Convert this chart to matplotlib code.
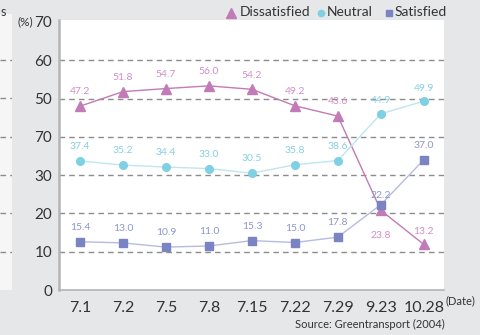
import matplotlib
matplotlib.use('Agg')
import matplotlib.pyplot as plt

plt.rcParams['font.family'] = ['Lato', 'DejaVu Sans']

dates = ['7.1', '7.2', '7.5', '7.8', '7.15', '7.22', '7.29', '9.23', '10.28']
# where the marks sit in the picture (the original chart is not drawn to scale)
dissatisfied = [48.0, 51.8, 52.6, 53.3, 52.4, 48.1, 45.4, 20.8, 11.9]
neutral = [33.7, 32.6, 32.1, 31.7, 30.5, 32.7, 33.8, 46.0, 49.3]
satisfied = [12.6, 12.3, 11.2, 11.5, 12.9, 12.4, 13.8, 22.3, 34.0]
# printed values
dissatisfied_lbl = ['47.2', '51.8', '54.7', '56.0', '54.2', '49.2', '43.6', '23.8', '13.2']
neutral_lbl = ['37.4', '35.2', '34.4', '33.0', '30.5', '35.8', '38.6', '44.9', '49.9']
satisfied_lbl = ['15.4', '13.0', '10.9', '11.0', '15.3', '15.0', '17.8', '22.2', '37.0']
ytick_vals = [0, 10, 20, 30, 40, 50, 60, 70]
ytick_lbl = ['0', '10', '20', '30', '70', '50', '60', '70']

bg = '#e6e7e9'
fig = plt.figure(figsize=(4.81, 3.35), dpi=100, facecolor=bg)

# strip of the neighbouring chart on the left edge
side = fig.add_axes([0, 45/335, 12/481, 276/335])
side.set_facecolor('#f6f6f6')
side.set_xlim(0, 1)
side.set_ylim(0, 72)
for v in [10, 20, 30, 40, 50, 60]:
    side.axhline(v, color='#8c8c8c', lw=1, ls=(0, (4, 3)))
side.set_xticks([])
side.set_yticks([])
for s in side.spines.values():
    s.set_visible(False)
fig.text(1/481, 1 - 12/335, 's', fontsize=9, color='#333333', va='center', ha='left')

ax = fig.add_axes([59/481, 45/335, 385/481, 270/335])
ax.set_facecolor('white')
x = list(range(len(dates)))
ax.set_xlim(-0.49, 8.47)
ax.set_ylim(0, 70.5)
for v in [10, 20, 30, 40, 50, 60]:
    ax.axhline(v, color='#8c8c8c', lw=1, ls=(0, (4, 3)), zorder=1)

series = [
    (dissatisfied, dissatisfied_lbl, '^', 7.5, '#c27bb7', '#c27bb7', '#d08fc6'),
    (neutral, neutral_lbl, 'o', 5.5, '#7fd0e2', '#bfe6ef', '#86d0e0'),
    (satisfied, satisfied_lbl, 's', 5.5, '#7a84c2', '#b6bbe2', '#8e96cc'),
]
# label offsets (points) that differ from the default
special = {(0, 7): (0, -21), (0, 8): (0, 6), (1, 7): (0, 6), (1, 8): (0, 6), (2, 7): (0, 3)}
for k, (vals, lbls, mk, ms, mc, lc, tc) in enumerate(series):
    ax.plot(x, vals, color=lc, lw=1, zorder=2)
    ax.plot(x, vals, ls='none', marker=mk, ms=ms, color=mc, zorder=3)
    for i, (v, t) in enumerate(zip(vals, lbls)):
        off = special.get((k, i), (0, 7))
        ax.annotate(t, (i, v), xytext=off, textcoords='offset points',
                    ha='center', va='bottom', fontsize=7.5, color=tc, zorder=4)

ax.set_xticks(x)
ax.set_xticklabels(dates, fontsize=11.5, color='#333333')
ax.set_yticks(ytick_vals)
ax.set_yticklabels(ytick_lbl, fontsize=11, color='#333333')
ax.tick_params(length=0, pad=5)
ax.tick_params(axis='x', pad=8)
for s in ['top', 'right']:
    ax.spines[s].set_visible(False)
ax.spines['left'].set_color('#b4b4b4')
ax.spines['left'].set_linewidth(1.8)
ax.spines['bottom'].set_color('#b4b4b4')
ax.spines['bottom'].set_linewidth(1.2)

fig.text(33/481, 1 - 22/335, '(%)', fontsize=8.5, color='#333333', ha='right', va='center')
fig.text(446/481, 1 - 301/335, '(Date)', fontsize=8, color='#333333', ha='left', va='center')
fig.text(445/481, 1 - 324/335, 'Source: Greentransport (2004)', fontsize=8, color='#333333',
         ha='right', va='center')

# legend in the grey band at the top
leg = [(231, 240, '^', 7, '#c27bb7', 'Dissatisfied'),
       (321, 327, 'o', 4.5, '#7fd0e2', 'Neutral'),
       (389, 395, 's', 5, '#7a84c2', 'Satisfied')]
for mx, tx, mk, ms, c, name in leg:
    fig.lines.append(plt.Line2D([mx/481], [1 - 13/335], marker=mk, ms=ms, color=c,
                                ls='none', transform=fig.transFigure))
    fig.text(tx/481, 1 - 12/335, name, fontsize=10, color='#333333', ha='left', va='center')

fig.savefig('out.png', dpi=100, facecolor=bg)
